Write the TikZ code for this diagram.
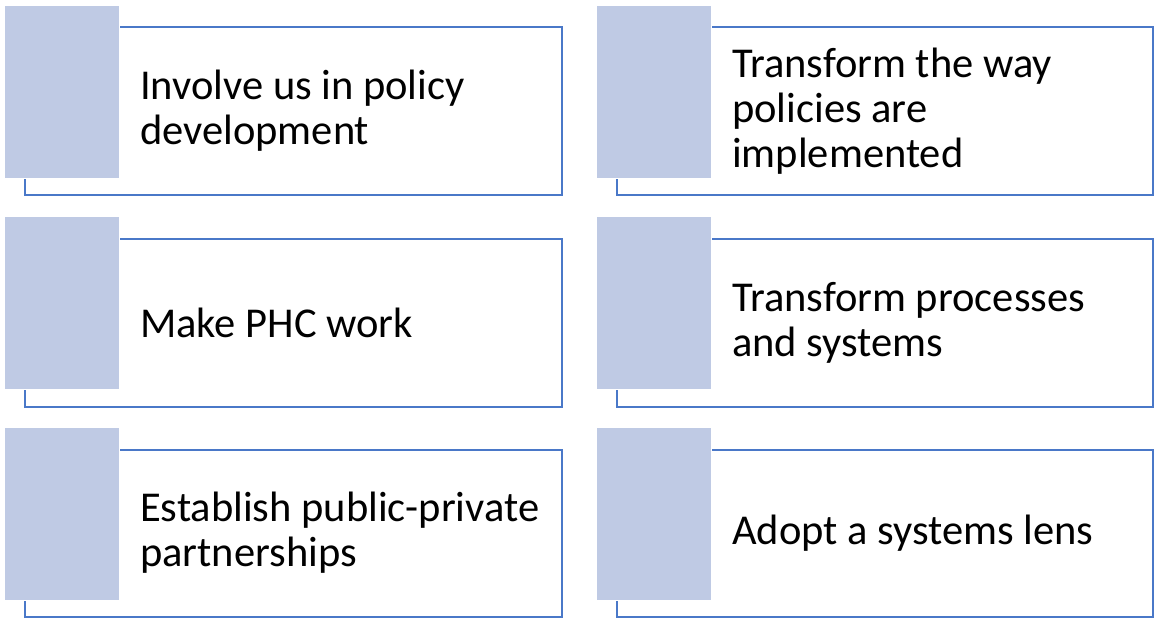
\documentclass[tikz,border=0pt]{standalone}
\usepackage{fontspec}
\setmainfont{Carlito}
\definecolor{sqfill}{HTML}{BFCAE4}
\definecolor{rline}{HTML}{4A78C8}
\tikzset{
  outl/.style={draw=rline, line width=1.4pt},
  sq/.style={fill=sqfill, draw=white, line width=1pt},
  lbl/.style={anchor=west, align=left, font=\fontsize{42.5}{45}\selectfont, inner sep=0pt}
}
\begin{document}
\begin{tikzpicture}[x=1pt,y=-1pt]
\useasboundingbox (0,0) rectangle (1154,619);
% left column
\draw[outl] (25,27) rectangle (562,195);
\fill[sq] (4,5) rectangle (119,178);
\node[lbl] (t1) at (140,111) {Involve us in policy\\development};
\draw[outl] (25,239) rectangle (562,407);
\fill[sq] (4,216) rectangle (119,389);
\node[lbl] (t2) at (140,323) {Make PHC work};
\draw[outl] (25,450) rectangle (562,617);
\fill[sq] (4,427) rectangle (119,600);
\node[lbl] (t3) at (140,533) {Establish public-private\\partnerships};
% right column
\draw[outl] (617,27) rectangle (1153,195);
\fill[sq] (596,5) rectangle (711,178);
\node[lbl] (t4) at (732,111) {Transform the way\\policies are\\implemented};
\draw[outl] (617,239) rectangle (1153,407);
\fill[sq] (596,216) rectangle (711,389);
\node[lbl] (t5) at (732,323) {Transform processes\\and systems};
\draw[outl] (617,450) rectangle (1153,617);
\fill[sq] (596,427) rectangle (711,600);
\node[lbl] (t6) at (732,533) {Adopt a systems lens};
\end{tikzpicture}
\end{document}
